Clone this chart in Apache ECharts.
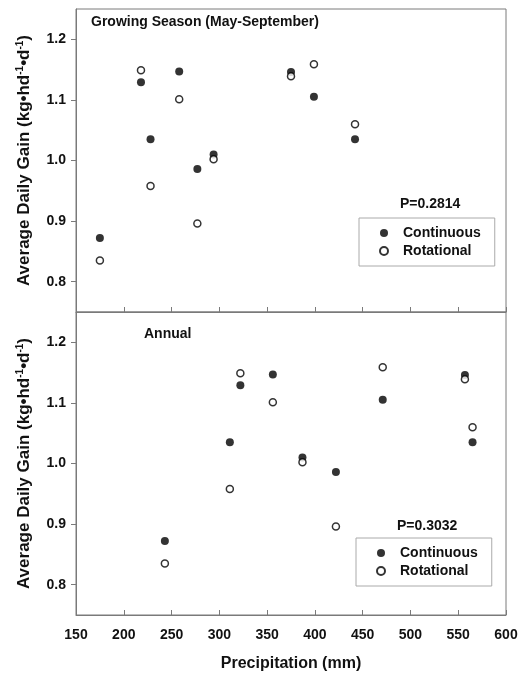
<!DOCTYPE html>
<html>
<head>
<meta charset="utf-8">
<script src="https://cdn.jsdelivr.net/npm/echarts@6/dist/echarts.min.js"></script>
<style>html,body{margin:0;padding:0;background:#fff;}#c{width:526px;height:673px;}</style>
</head>
<body>
<div id="c"></div>
<script>
// Data per year (same years in both panels)
var gsPrecip = [175, 218, 228, 258, 277, 294, 375, 399, 442];
var annualPrecip = [243, 322, 311, 356, 422, 387, 557, 471, 565];
var continuousADG = [0.872, 1.129, 1.035, 1.147, 0.986, 1.010, 1.146, 1.105, 1.035];
var rotationalADG = [0.835, 1.149, 0.958, 1.101, 0.896, 1.002, 1.139, 1.159, 1.060];
var yTicks = [0.8, 0.9, 1.0, 1.1, 1.2];
var xTicks = [150, 200, 250, 300, 350, 400, 450, 500, 550, 600];
var panelTitles = ['Growing Season (May-September)', 'Annual'];
var pValues = ['P=0.2814', 'P=0.3032'];
var seriesNames = ['Continuous', 'Rotational'];

function pairs(xs, ys) { return xs.map(function (x, i) { return [x, ys[i]]; }); }

var FONT = 'Liberation Sans, Arial, sans-serif';
var TXT = '#111';
var AX = '#7a7a7a';

var yName = '{n|Average Daily Gain (kg•hd}{s|-1}{n|•d}{s|-1}{n|)}';
var yNameStyle = {
  rich: {
    n: { fontSize: 17, fontWeight: 'bold', color: TXT, fontFamily: FONT },
    s: { fontSize: 10, fontWeight: 'bold', color: TXT, fontFamily: FONT, padding: [0, 0, 9, 0] }
  }
};

function yAxis(gi) {
  return {
    type: 'value', gridIndex: gi, min: 0.75, max: 1.25,
    name: yName, nameLocation: 'middle', nameRotate: 90, nameGap: 42,
    nameTextStyle: yNameStyle,
    axisLine: { show: true, lineStyle: { color: AX, width: 1 } },
    axisTick: { show: true, length: 5, customValues: yTicks, lineStyle: { color: AX } },
    axisLabel: { customValues: yTicks, margin: 10, color: TXT, fontSize: 14, fontWeight: 'bold', fontFamily: FONT,
      formatter: function (v) { return v.toFixed(1); } },
    splitLine: { show: false }
  };
}
function xAxis(gi, showLabels) {
  var a = {
    type: 'value', gridIndex: gi, min: 150, max: 600,
    axisLine: { show: true, onZero: false, lineStyle: { color: AX, width: 1 } },
    axisTick: { show: true, inside: true, length: 5, customValues: xTicks, lineStyle: { color: AX } },
    axisLabel: { show: showLabels, customValues: xTicks, margin: 13, color: TXT, fontSize: 14, fontWeight: 'bold', fontFamily: FONT },
    splitLine: { show: false }
  };
  if (showLabels) {
    a.name = 'Precipitation (mm)';
    a.nameLocation = 'middle';
    a.nameGap = 41;
    a.nameTextStyle = { color: TXT, fontSize: 16, fontWeight: 'bold', fontFamily: FONT };
  }
  return a;
}
function contSeries(gi, xs) {
  return { name: seriesNames[0], type: 'scatter', xAxisIndex: gi, yAxisIndex: gi, symbol: 'circle', symbolSize: 8,
    itemStyle: { color: '#000' }, data: pairs(xs, continuousADG) };
}
function rotSeries(gi, xs) {
  return { name: seriesNames[1], type: 'scatter', xAxisIndex: gi, yAxisIndex: gi, symbol: 'circle', symbolSize: 7,
    itemStyle: { color: '#fff', borderColor: '#000', borderWidth: 1.5 }, data: pairs(xs, rotationalADG) };
}
function legend(left, top) {
  return {
    data: seriesNames, orient: 'vertical', left: left, top: top, width: 137,
    borderColor: '#aaa', borderWidth: 1, padding: [8, 14, 8, 20],
    itemWidth: 8, itemHeight: 8, itemGap: 4, icon: 'circle',
    textStyle: { color: TXT, fontSize: 14, fontWeight: 'bold', fontFamily: FONT, padding: [0, 0, 0, 10], width: 90 }
  };
}
var tStyle = { color: TXT, fontSize: 14, fontWeight: 'bold', fontFamily: FONT };

var chart = echarts.init(document.getElementById('c'), null, { renderer: 'canvas' });
chart.setOption({
  backgroundColor: '#fff',
  animation: false,
  title: [
    { text: panelTitles[0], left: 91, top: 15, padding: 0, textStyle: tStyle },
    { text: panelTitles[1], left: 144, top: 327, padding: 0, textStyle: tStyle },
    { text: pValues[0], left: 400, top: 197, padding: 0, textStyle: tStyle },
    { text: pValues[1], left: 397, top: 519, padding: 0, textStyle: tStyle }
  ],
  grid: [
    { left: 76, right: 20, top: 9, height: 303, show: true, borderColor: AX, borderWidth: 1, backgroundColor: 'transparent' },
    { left: 76, right: 20, top: 312, height: 303, show: true, borderColor: AX, borderWidth: 1, backgroundColor: 'transparent' }
  ],
  xAxis: [xAxis(0, false), xAxis(1, true)],
  yAxis: [yAxis(0), yAxis(1)],
  legend: [legend(359, 218), legend(356, 538)],
  series: [contSeries(0, gsPrecip), rotSeries(0, gsPrecip), contSeries(1, annualPrecip), rotSeries(1, annualPrecip)]
});
</script>
</body>
</html>
